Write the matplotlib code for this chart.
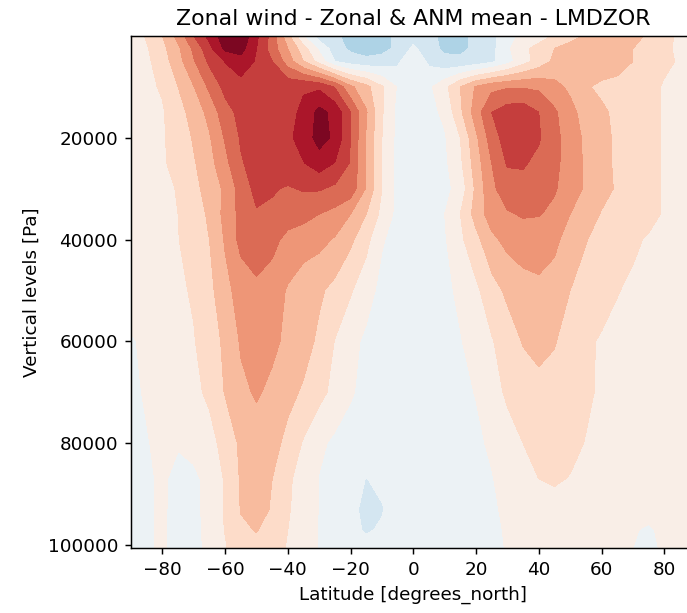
import numpy as np
import matplotlib
matplotlib.use('Agg')
import matplotlib.pyplot as plt

# latitude grid (degrees_north) and pressure levels (Pa)
lat = [-90, -85, -80, -75, -70, -65, -60, -55, -50, -45, -40, -35, -30, -25, -20, -15, -10, -5,
       0, 5, 10, 15, 20, 25, 30, 35, 40, 45, 50, 55, 60, 65, 70, 75, 80, 85, 90]
plev = [25, 2500, 5000, 10000, 15000, 20000, 25000, 30000, 35000, 40000,
        50000, 60000, 70000, 80000, 87000, 93000, 97000, 100600]

# zonal wind (m/s), one row per pressure level
ua = [
    [2, 5.5, 10, 16.5, 25, 31.5, 38, 39, 31, 23, 11.5, 0, -7.5, -9.5, -11, -12.5, -11.5, -9,
     -7, -9, -11, -11, -9, -6, -3, 2, 3, 5.5, 8, 10.5, 13, 13.5, 12, 9, 6.5, 4, 3],
    [2.5, 4.5, 8.5, 14, 21, 28.5, 36, 37, 30, 22.5, 15, 7, -1, -7.5, -11, -12.5, -11.5, -9,
     -4, -8, -11, -11, -9, -6.5, -1, 4, 6.5, 10, 12, 13, 13.5, 13, 10, 8.5, 6, 4, 3],
    [3, 4, 7.5, 13, 19.5, 26, 30.2, 33, 29.5, 25, 17.5, 10, 3, -5, -7.5, -8.5, -8, -6,
     -1, -6, -8.5, -9, -8, -6, -2, 3, 7, 11, 13, 13.5, 13, 12, 10, 8, 6, 4.5, 3],
    [3.5, 4, 5.5, 10, 14.8, 21, 26.5, 28, 28.5, 28, 28.5, 29.5, 29, 24.5, 16, 11.5, 5.5, -0.5,
     -2.5, -1, 3.5, 10, 15.5, 18.5, 19.5, 19.5, 19, 16.5, 14, 10.5, 9, 8.5, 8, 6.5, 4.5, 3.5, 3],
    [3, 3.5, 4.5, 8, 12, 16.5, 23, 26.5, 27.5, 27.5, 28.5, 31, 36.5, 33.5, 25, 15.5, 5.5, -1.5,
     -2.5, -1.5, 1, 9, 17.5, 25, 27.5, 28, 25, 20.8, 16.5, 13, 10.8, 9, 8, 6.5, 4.5, 3.5, 3],
    [3, 3.5, 4.5, 7, 10.5, 14.5, 20.5, 25.5, 27, 27.5, 29, 32, 37, 34, 25, 14.5, 5, -1.5,
     -2.5, -2, -0.5, 5, 14, 22.5, 27.5, 28.5, 25.5, 21.5, 17.5, 14, 11.2, 9.3, 8.3, 6.8, 4.5, 3.5, 3],
    [3, 3.5, 4.3, 6.8, 9.5, 13.2, 18.5, 24.5, 27, 27.5, 28.5, 29.8, 32.5, 29.8, 24.5, 14.5, 5, -1.5,
     -2.5, -2, -1, 4, 12.5, 20, 25.5, 25.5, 23.8, 21.2, 17.8, 14.2, 11.3, 9.3, 8.3, 6.8, 4.5, 3.5, 3],
    [3, 3.5, 4.2, 5.2, 8.5, 12, 16, 22, 26.5, 25.5, 24.5, 25.5, 25.5, 24, 23, 14.5, 5, -1.5,
     -2.5, -2, -1.5, 2, 11, 19, 22.5, 23.5, 22.5, 20.5, 17.5, 14.3, 11.5, 9.5, 8.3, 6.8, 4.5, 3.5, 3],
    [3, 3.5, 4, 5, 7.5, 10.8, 16.5, 21.5, 24.5, 24, 22.5, 21.5, 20, 18.5, 15, 10, 3.5, -1.5,
     -2.5, -2, 0, 5, 12, 17.5, 19.5, 20.5, 20.3, 18.8, 15, 12.2, 9.7, 8.8, 8, 6.5, 4.5, 3.5, 3],
    [3, 3.5, 4, 4.8, 7.5, 10, 15.5, 21.5, 24, 21.5, 18.5, 17.5, 16.5, 14.5, 11, 6.5, 0.5, -2,
     -2.5, -2, -0.5, 4, 8.5, 13.8, 16.5, 17.5, 17.2, 15.8, 13.5, 10.2, 8.5, 7.3, 5.8, 4.5, 3.8, 3.2, 3],
    [2.5, 3, 3.5, 4.2, 5.5, 8.5, 13.5, 17, 18.5, 17.5, 14.5, 12, 10.8, 8.5, 5.5, 2, -1.5, -2.5,
     -2.5, -2.5, -1.2, 1, 4, 8, 11, 13, 14, 13.5, 10, 8.5, 7, 5.2, 4.2, 3.5, 3.2, 3, 2.8],
    [-0.5, 1, 2.5, 3.5, 4.7, 7.5, 11, 15.5, 17, 16, 14, 12, 9, 4.8, 1.5, -1, -2, -2.5,
     -2.5, -2.5, -2, -0.3, 2, 4.6, 7.5, 10.3, 11.5, 10.3, 8, 5.8, 4.5, 3.8, 3.4, 3, 2.8, 2.5, 2.3],
    [-1, 0.5, 2, 3, 4, 5.8, 10.3, 14, 15.5, 14, 11.5, 9.3, 6.5, 3.5, 0.5, -1.5, -2.5, -2.5,
     -2.5, -2.5, -2.2, -1.2, 0.2, 3, 5.8, 7.5, 8.5, 8.3, 7.3, 5.8, 4.3, 3.5, 3, 2.7, 2.5, 2.3, 2],
    [-1.5, -0.3, 1.2, 0.3, 1.5, 3.5, 6.5, 11, 13, 11.8, 8.5, 4.5, 1, -1, -2, -2.5, -2.5, -2.5,
     -2.5, -2.5, -2.5, -2, -1, 0.8, 3, 5, 6.5, 7, 6.2, 4.8, 3.5, 2.8, 2.3, 2, 2, 1.8, 1.5],
    [-1.5, -0.5, 0.5, -1, -1, 1.5, 5.5, 10.5, 12.5, 10, 6, 2.5, -0.2, -2, -3.5, -5.1, -4, -3,
     -2.5, -2.5, -2.5, -2.3, -1.5, -0.3, 2, 3.8, 5, 5.5, 4.8, 3.8, 3, 2.4, 2, 1.8, 1.8, 1.5, 1.2],
    [-1.5, -0.5, 0.5, -1.2, -1.2, 1.5, 5.5, 10.2, 12, 9.5, 5.5, 2.5, -0.2, -2, -4, -6, -5.3, -3,
     -2.5, -2.5, -2.5, -2.5, -2, -0.8, 1, 2, 3, 3.5, 3, 2.5, 2, 1.5, 1, 0.8, 1, 1, 0.8],
    [-1.5, -0.5, 0.5, -1.2, -1.2, 1.2, 5.2, 9.3, 10.2, 8.5, 5, 2.2, -0.2, -2, -3.8, -5.5, -4.5, -3,
     -2.5, -2.5, -2.5, -2.5, -2, -1, 0.5, 1.5, 2.5, 3, 2.5, 2, 1.5, 1, 0.2, -0.3, 0.5, 0.8, 0.5],
    [-1.5, -0.5, 0.5, -1.2, -1.2, 1, 4.5, 8.5, 9, 7.5, 4.5, 2, -0.3, -2, -3, -3.5, -3, -2.8,
     -2.5, -2.5, -2.5, -2.5, -2.2, -1.2, 0.3, 1.2, 2, 2.5, 2, 1.8, 1.2, 0.8, 0, -0.5, 0.3, 0.6, 0.5],
]

clevs = [-40, -35, -30, -25, -20, -15, -10, -5, 0, 5, 10, 15, 20, 25, 30, 35, 40]

dpi = 132
fig = plt.figure(figsize=(687/dpi, 613/dpi), dpi=dpi)
ax = fig.add_axes([131/687, 65/613, 564.6/687, 512/613])
ax.contourf(lat, plev, np.array(ua), levels=clevs, cmap='RdBu_r')
ax.set_xlim(-90, 90)
ax.set_ylim(100600, 24)
ax.set_xticks([-80, -60, -40, -20, 0, 20, 40, 60, 80])
ax.set_yticks([20000, 40000, 60000, 80000, 100000])
ax.set_title('Zonal wind - Zonal & ANM mean - LMDZOR')
ax.set_xlabel('Latitude [degrees_north]')
ax.set_ylabel('Vertical levels [Pa]')
fig.savefig('out.png', dpi=dpi)
